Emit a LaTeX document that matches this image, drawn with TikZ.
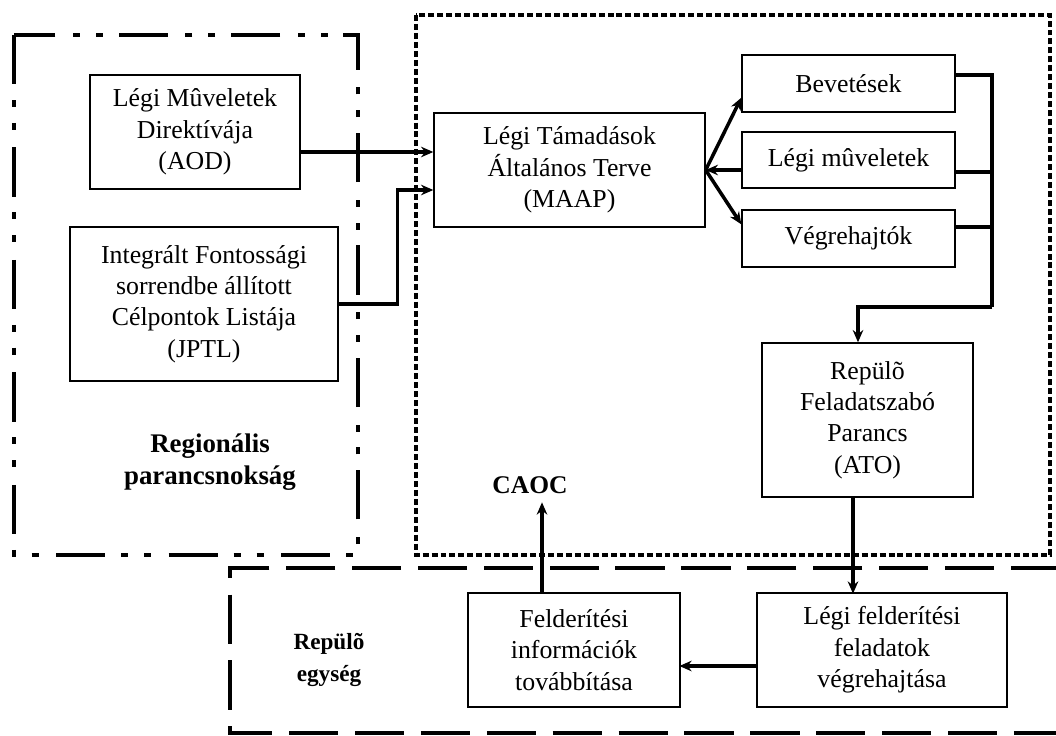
\documentclass[tikz,border=0pt]{standalone}
\usepackage{fontspec}
\setmainfont{Liberation Serif}
\usetikzlibrary{arrows.meta}

\begin{document}
\begin{tikzpicture}[x=0.02cm, y=0.02cm]
\tikzstyle{every node}+=[inner sep=0pt, align=center, font=\fontsize{14.7pt}{17.9pt}\selectfont]
\tikzstyle{box}=[draw=black, line width=0.8pt]
\tikzstyle{areatext}=[font=\fontsize{14.5pt}{17.9pt}\selectfont\bfseries]
\tikzstyle{conn}=[black, line width=2pt]
\tikzstyle{arr}=[conn, -{Stealth[length=7pt,width=6pt]}]
\useasboundingbox (0,0) rectangle (1056,-735);
% regions
\draw [black, line width=2.8pt, dash pattern=on 28pt off 9pt on 4pt off 9pt on 4pt off 10pt] (14,-35) rectangle (358,-555);
\draw [black, line width=2.8pt, dash pattern=on 3.4pt off 1.7pt] (416,-15) rectangle (1050,-555);
\draw [black, line width=2.8pt, dash pattern=on 28pt off 9.5pt] (1060,-568) -- (230,-568) -- (230,-733) -- (1060,-733);
\node [areatext, font=\fontsize{15.3pt}{17.9pt}\selectfont\bfseries] (regio) at (210,-462) {Regionális\\parancsnokság};
\node [areatext, font=\fontsize{13.2pt}{17.9pt}\selectfont\bfseries] (egyseg) at (329,-660) {Repülõ\\egység};
\node [areatext] (caoc) at (530,-485) {CAOC};
% boxes
\node [box, minimum width=4.2cm, minimum height=2.28cm] (aod) at (195,-132) {Légi Mûveletek\\Direktívája\\(AOD)};
\node [box, minimum width=5.36cm, minimum height=3.08cm] (jptl) at (204,-304) {Integrált Fontossági\\sorrendbe állított\\Célpontok Listája\\(JPTL)};
\node [box, minimum width=5.42cm, minimum height=2.28cm] (maap) at (569.5,-170) {Légi Támadások\\Általános Terve\\(MAAP)};
\node [box, minimum width=4.26cm, minimum height=1.14cm] (bev) at (848.5,-83.5) {Bevetések};
\node [box, minimum width=4.26cm, minimum height=1.12cm] (lm) at (848.5,-160) {Légi mûveletek};
\node [box, minimum width=4.26cm, minimum height=1.14cm] (veg) at (848.5,-238.5) {Végrehajtók};
\node [box, minimum width=4.22cm, minimum height=3.08cm] (ato) at (867.5,-420) {Repülõ\\Feladatszabó\\Parancs\\(ATO)};
\node [box, minimum width=5cm, minimum height=2.28cm] (lf) at (882,-650) {Légi felderítési\\feladatok\\végrehajtása};
\node [box, minimum width=4.24cm, minimum height=2.28cm] (fi) at (574,-650) {Felderítési\\információk\\továbbítása};
% connectors
\coordinate (aodout) at ([yshift=-0.4cm]aod.east);
\coordinate (maapin) at ([yshift=-0.4cm]maap.west);
\coordinate (bus) at (992,-307);
\draw [arr] (aodout) -- (aodout -| maap.west);
\draw [arr] (jptl.east) -- ++(59,0) |- (maapin);
\draw [arr] (maap.east) -- ([yshift=0.3cm]bev.south west);
\draw [arr] (lm.west |- maap.east) -- (maap.east);
\draw [arr] (maap.east) -- ([yshift=-0.3cm]veg.north west);
\draw [conn] ([yshift=0.17cm]bev.east) -| (bus);
\draw [conn] ([yshift=-0.24cm]lm.east) -- ++(37,0);
\draw [conn] ([yshift=0.23cm]veg.east) -- ++(37,0);
\draw [arr] (bus) -| ([xshift=-0.19cm]ato.north);
\draw [arr] ([xshift=-0.29cm]ato.south) -- ++(0,-96);
\draw [arr] ([yshift=-0.32cm]lf.west) -- ++(-77,0);
\draw [arr] ([xshift=-0.64cm]fi.north) -- ++(0,90);
\end{tikzpicture}
\end{document}
